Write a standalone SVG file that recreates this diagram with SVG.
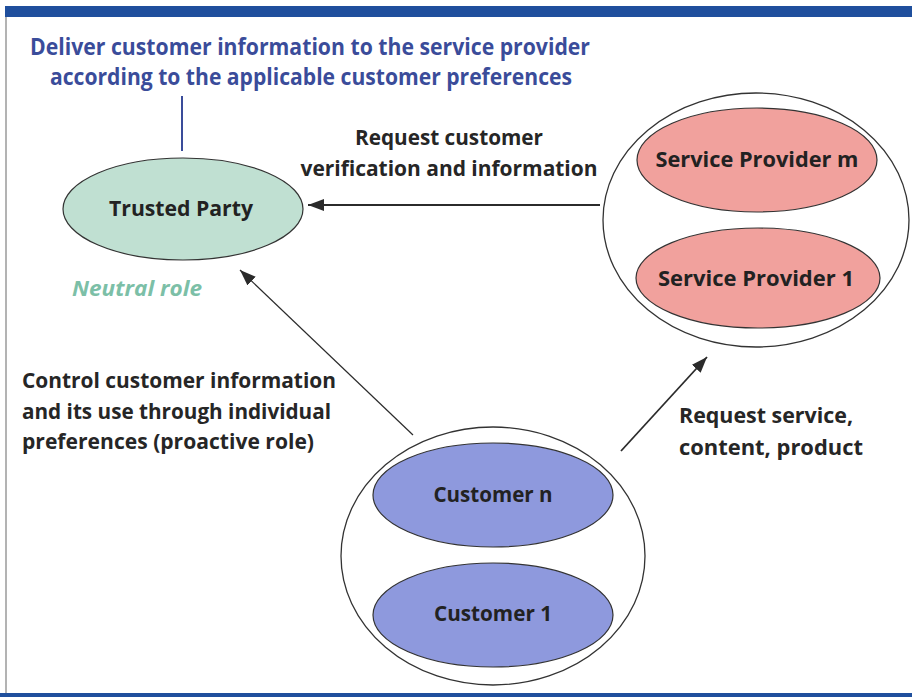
<svg xmlns="http://www.w3.org/2000/svg" width="912" height="697" viewBox="0 0 912 697">
<defs>
<style>
.t{font-family:"Open Sans","Liberation Sans",sans-serif;font-weight:700;font-size:22px;fill:#262626}
.title{font-family:"Open Sans","Liberation Sans",sans-serif;font-weight:700;font-size:23px;fill:#3a4c9a}
.nodeText{font-family:"Open Sans","Liberation Sans",sans-serif;font-weight:700;font-size:22px;fill:#222;text-anchor:middle}
.outline{fill:none;stroke:#333;stroke-width:1.3}
.green{fill:#c0e0d2;stroke:#333;stroke-width:1.2}
.red{fill:#f1a19d;stroke:#333;stroke-width:1.2}
.blue{fill:#8e99dd;stroke:#333;stroke-width:1.2}
.conn{fill:none;stroke:#2b2b2b}
</style>
<marker id="ah" markerWidth="16" markerHeight="12" refX="16" refY="6" orient="auto" markerUnits="userSpaceOnUse">
<path d="M0,0 L16,6 L0,12 Z" fill="#2b2b2b"/>
</marker>
</defs>
<rect x="0" y="0" width="912" height="697" fill="#ffffff"/>
<rect x="5" y="6" width="907" height="11" fill="#1f4f9d"/>
<line x1="6" y1="17" x2="6" y2="693" stroke="#9a9a9a" stroke-width="1.5"/>
<rect x="0" y="693" width="912" height="4" fill="#1f4f9d"/>

<g id="title">
<text class="title" x="310" y="55" text-anchor="middle" textLength="560" lengthAdjust="spacingAndGlyphs">Deliver customer information to the service provider</text>
<text class="title" x="311" y="85" text-anchor="middle" textLength="522" lengthAdjust="spacingAndGlyphs">according to the applicable customer preferences</text>
</g>

<g id="connectors">
<line x1="182" y1="96" x2="182" y2="151" stroke="#3a4c9a" stroke-width="2"/>
<line class="conn" x1="600" y1="205" x2="308" y2="205" stroke-width="2" marker-end="url(#ah)"/>
<line class="conn" x1="413" y1="435" x2="240" y2="270" stroke-width="1.2" marker-end="url(#ah)"/>
<line class="conn" x1="621" y1="451" x2="707" y2="357" stroke-width="1.8" marker-end="url(#ah)"/>
</g>

<g id="trusted-party">
<ellipse class="green" cx="183" cy="209" rx="120" ry="51"/>
<text class="nodeText" x="181" y="216" textLength="144" lengthAdjust="spacingAndGlyphs">Trusted Party</text>
</g>
<text x="72" y="296" font-family="'Open Sans','Liberation Sans',sans-serif" font-style="italic" font-weight="700" font-size="22" fill="#7cbfa7" textLength="130" lengthAdjust="spacingAndGlyphs">Neutral role</text>

<g id="service-providers">
<ellipse class="outline" cx="756" cy="220" rx="153" ry="127"/>
</g>
<g id="service-provider-m">
<ellipse class="red" cx="757" cy="160" rx="120" ry="52"/>
<text class="nodeText" x="757" y="167" textLength="203" lengthAdjust="spacingAndGlyphs">Service Provider m</text>
</g>
<g id="service-provider-1">
<ellipse class="red" cx="758" cy="278" rx="122" ry="50"/>
<text class="nodeText" x="756" y="286" textLength="196" lengthAdjust="spacingAndGlyphs">Service Provider 1</text>
</g>

<g id="customers">
<ellipse class="outline" cx="493" cy="556" rx="152" ry="129"/>
</g>
<g id="customer-n">
<ellipse class="blue" cx="493" cy="495" rx="120" ry="52"/>
<text class="nodeText" x="493" y="502" textLength="119" lengthAdjust="spacingAndGlyphs">Customer n</text>
</g>
<g id="customer-1">
<ellipse class="blue" cx="493" cy="615" rx="120" ry="52"/>
<text class="nodeText" x="493" y="621" textLength="118" lengthAdjust="spacingAndGlyphs">Customer 1</text>
</g>

<g id="labels">
<text class="t" x="449" y="145" text-anchor="middle" textLength="188" lengthAdjust="spacingAndGlyphs">Request customer</text>
<text class="t" x="449" y="176" text-anchor="middle" textLength="297" lengthAdjust="spacingAndGlyphs">verification and information</text>
<text class="t" x="22" y="388" textLength="314" lengthAdjust="spacingAndGlyphs">Control customer information</text>
<text class="t" x="22" y="419" textLength="309" lengthAdjust="spacingAndGlyphs">and its use through individual</text>
<text class="t" x="22" y="449" textLength="292" lengthAdjust="spacingAndGlyphs">preferences (proactive role)</text>
<text class="t" x="679" y="423" textLength="174" lengthAdjust="spacingAndGlyphs">Request service,</text>
<text class="t" x="679" y="455" textLength="184" lengthAdjust="spacingAndGlyphs">content, product</text>
</g>
</svg>
